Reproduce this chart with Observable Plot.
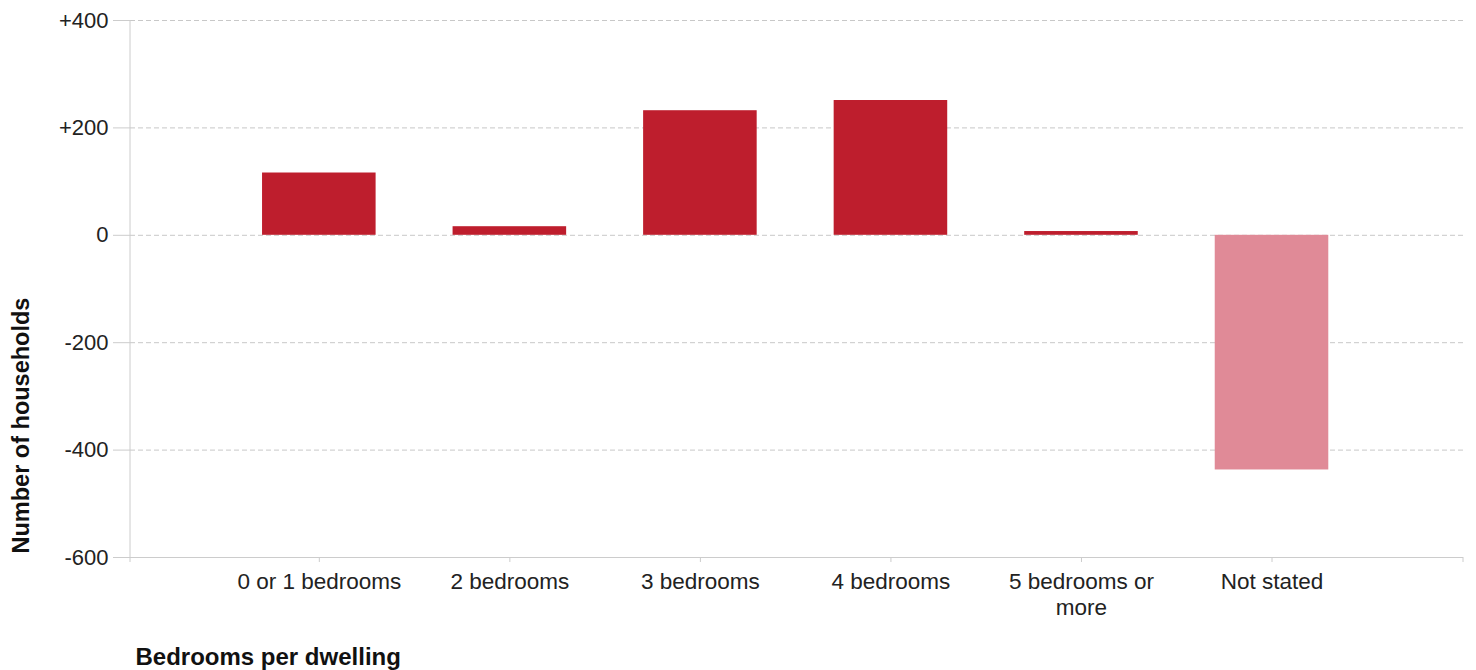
<!DOCTYPE html>
<html>
<head>
<meta charset="utf-8">
<script src="https://cdn.jsdelivr.net/npm/d3@7"></script>
<script src="https://cdn.jsdelivr.net/npm/@observablehq/plot@0.6"></script>
<style>
  html, body { margin: 0; padding: 0; background: #fff; }
  body { width: 1476px; height: 670px; overflow: hidden; font-family: "Liberation Sans", Arial, sans-serif; }
</style>
</head>
<body>
<div id="chart"></div>
<script>
// ---- data ----
const categories = ["0 or 1 bedrooms", "2 bedrooms", "3 bedrooms", "4 bedrooms", "5 bedrooms or more", "Not stated"];
const tickLabels = ["0 or 1 bedrooms", "2 bedrooms", "3 bedrooms", "4 bedrooms", "5 bedrooms or\nmore", "Not stated"];
const changes = [116, 16, 232, 251, 7, -437];
const yTicks = [-600, -400, -200, 0, 200, 400];
const yTickLabels = ["-600", "-400", "-200", "0", "+200", "+400"];
const xTitle = "Bedrooms per dwelling";
const yTitle = "Number of households";

const data = categories.map((c, i) => ({category: c, value: changes[i]}));

const RED = "#be1e2d";
const PINK = "#e08a97";
const FONT = "'Liberation Sans', Arial, sans-serif";

const chart = Plot.plot({
  width: 1476,
  height: 670,
  marginLeft: 130,
  marginRight: 13,
  marginTop: 20,
  marginBottom: 113,
  style: {fontFamily: FONT, background: "#fff"},
  x: {domain: categories, paddingInner: 0.404, paddingOuter: 0.70, align: 0.495, round: false, label: null},
  y: {domain: [-600, 400], label: null},
  marks: [
    Plot.gridY(yTicks, {stroke: "#c8c8c8", strokeOpacity: 1, strokeDasharray: "5,3"}),
    Plot.barY(data, {x: "category", y: "value", fill: d => d.value < 0 ? PINK : RED}),
    Plot.axisY(yTicks, {
      tickSize: 17, tickPadding: 5, stroke: "#cccccc", fill: "#222", fontSize: 22,
      tickFormat: d => yTickLabels[yTicks.indexOf(d)], label: null
    }),
    Plot.axisX({
      tickSize: 5, tickPadding: 8, stroke: "#cccccc", fill: "#222", fontSize: 22.5, lineHeight: 1.15,
      tickFormat: d => tickLabels[categories.indexOf(d)], label: null
    }),
    Plot.ruleY([-600], {stroke: "#cccccc"}),
    Plot.text([xTitle], {
      frameAnchor: "bottom-left", dx: 5, dy: 107, textAnchor: "start",
      fontWeight: "bold", fontSize: 24, fill: "#111"
    }),
    Plot.text([yTitle], {
      frameAnchor: "bottom-left", dx: -102, dy: -4, rotate: -90, textAnchor: "start",
      fontWeight: "bold", fontSize: 23.5, fill: "#111"
    })
  ]
});

document.getElementById("chart").appendChild(chart);

// axis line on the left and end ticks of the x axis, derived from the scales
const xs = chart.scale("x"), ys = chart.scale("y");
const [x0, x1] = xs.range;
const yTop = ys.apply(400), yBottom = ys.apply(-600);
const svg = d3.select(chart);
svg.append("line").attr("x1", x0).attr("x2", x0).attr("y1", yTop).attr("y2", yBottom + 5)
  .attr("stroke", "#cccccc");
svg.append("line").attr("x1", x1).attr("x2", x1).attr("y1", yBottom).attr("y2", yBottom + 5)
  .attr("stroke", "#cccccc");
</script>
</body>
</html>
